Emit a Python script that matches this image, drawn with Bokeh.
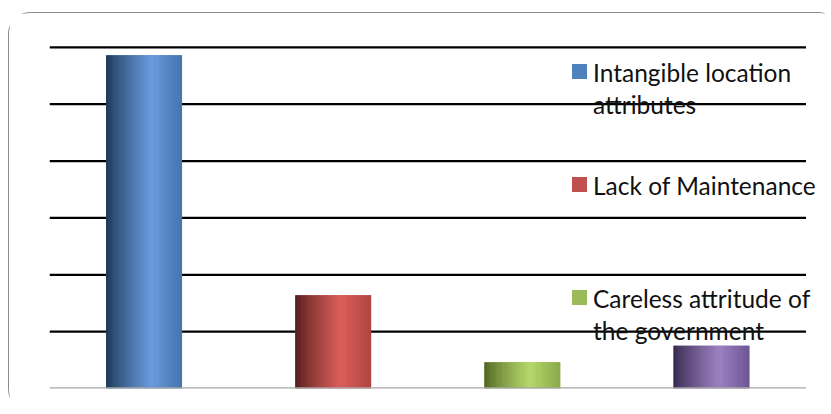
from bokeh.plotting import figure
from bokeh.models import Range1d, Label, ColumnDataSource
from bokeh.embed import file_html
from bokeh.resources import INLINE

# ---- data ----
categories = ["Intangible location attributes", "Lack of Maintenance",
              "Careless attritude of the government", "Other"]
values = [58.6, 16.4, 4.6, 7.5]
legend_lines = [["Intangible location", "attributes"],
                ["Lack of Maintenance"],
                ["Careless attritude of", "the government"]]
grid_ticks = [10, 20, 30, 40, 50, 60]
base_colors = ["#4f81bd", "#c0504d", "#9bbb59", "#8064a2"]
# (left edge, highlight, right edge) for the shaded bars
shade_stops = [("#1b3350", "#6a9cde", "#4674ad"),
               ("#4e1b1b", "#dc5f5b", "#ae4540"),
               ("#4c6120", "#b6d96c", "#88a948"),
               ("#32254a", "#9c82c2", "#6e5694")]

# ---- layout constants (pixels) ----
W, H = 821, 399
FL, FR, FT, FB = 40, 0, 31, 24          # min borders
PLOT_AREA_PX = 756.5                    # width of the category area (gridline length)
Y_MAX = 60.5
N_STRIPS = 32
BAR_W = 0.4

n = len(categories)
frame_w_px = W - FL - FR
x_end = n * frame_w_px / PLOT_AREA_PX

p = figure(width=W, height=H, output_backend="svg", toolbar_location=None,
           x_axis_location=None, y_axis_location=None,
           x_range=Range1d(0, x_end), y_range=Range1d(0, Y_MAX),
           min_border_left=FL, min_border_right=FR,
           min_border_top=FT, min_border_bottom=FB)
p.outline_line_color = None
p.background_fill_color = "white"
p.border_fill_color = "white"
p.xgrid.visible = False
p.ygrid.visible = False
p.styles = {"border-left": "1.5px solid #8c8c8c", "border-top": "1.5px solid #8c8c8c",
            "border-radius": "22px 9px 0 22px", "margin": "12px 0 0 8px"}

# horizontal gridlines over the category area
p.segment(x0=[0] * len(grid_ticks), x1=[n] * len(grid_ticks), y0=grid_ticks, y1=grid_ticks,
          line_color="black", line_width=2.2)

centers = [i + 0.5 for i in range(n)]

# solid base bars
p.vbar(x=centers, top=values, width=BAR_W, fill_color=base_colors, line_color=None)

# shaded overlay strips
def hex2rgb(h):
    h = h.lstrip("#")
    return tuple(int(h[i:i + 2], 16) for i in (0, 2, 4))

def mix(c1, c2, t):
    a, b = hex2rgb(c1), hex2rgb(c2)
    return "#%02x%02x%02x" % tuple(int(round(a[j] + (b[j] - a[j]) * t)) for j in range(3))

sx, stop, sw, sc = [], [], [], []
w = BAR_W / N_STRIPS
for i, v in enumerate(values):
    left, hi, right = shade_stops[i]
    for k in range(N_STRIPS):
        t = (k + 0.5) / N_STRIPS
        if t < 0.6:
            col = mix(left, hi, (t / 0.6) ** 0.8)
        else:
            col = mix(hi, right, (t - 0.6) / 0.4)
        sx.append(centers[i] - BAR_W / 2 + (k + 0.5) * w)
        stop.append(v)
        sw.append(w * 1.15)
        sc.append(col)
p.vbar(x="x", top="top", width="w", fill_color="c", line_color=None,
       source=ColumnDataSource(dict(x=sx, top=stop, w=sw, c=sc)))

# baseline (category axis line)
p.segment(x0=[0], x1=[n], y0=[0], y1=[0], line_color="#a6a6a6", line_width=2.5)

# ---- manual legend (positions in window pixels) ----
frame_left_px = 49.5
frame_bottom_px = 388.5
frame_h_px = H - FT - FB

def dx(px):
    return (px - frame_left_px) / frame_w_px * x_end

def dy(py):
    return (frame_bottom_px - py) / frame_h_px * Y_MAX

sq_x = 579.5
sq_y = [71.5, 184.5, 297.5]
p.scatter(x=[dx(sq_x)] * 3, y=[dy(y) for y in sq_y], marker="square", size=15,
          fill_color=base_colors[:3], line_color=None)

text_x = 593
line_gap = 31.5
for j, lines in enumerate(legend_lines):
    for m, txt in enumerate(lines):
        p.add_layout(Label(x=dx(text_x), y=dy(sq_y[j] + 1 + m * line_gap), text=txt,
                           text_font="Lato", text_font_size="24.5px",
                           text_baseline="middle", text_color="#111111"))

open("out.html", "w").write(file_html(p, INLINE))
